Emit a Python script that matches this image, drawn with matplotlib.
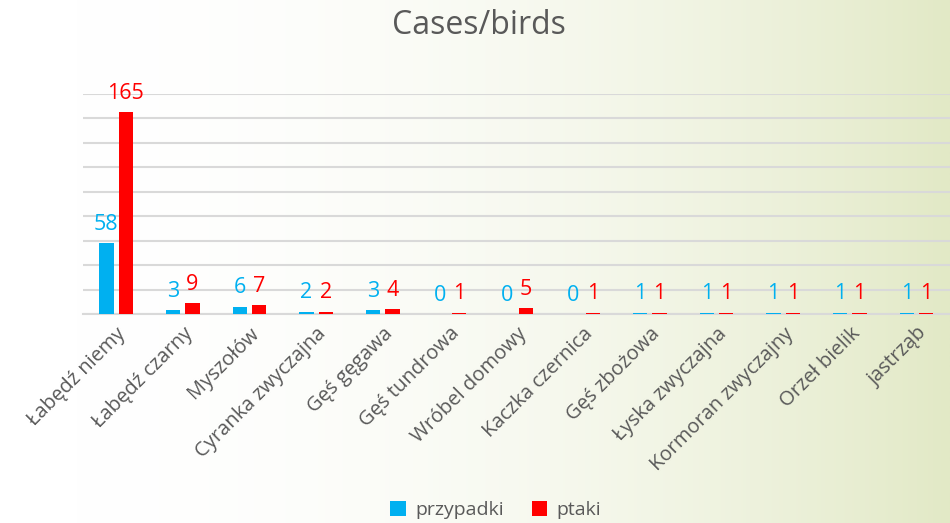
import numpy as np
import matplotlib.pyplot as plt
from matplotlib.colors import LinearSegmentedColormap

# Data
birds = ['Łabędź niemy', 'Łabędź czarny', 'Myszołów', 'Cyranka zwyczajna',
         'Gęś gęgawa', 'Gęś tundrowa', 'Wróbel domowy', 'Kaczka czernica',
         'Gęś zbożowa', 'Łyska zwyczajna', 'Kormoran zwyczajny', 'Orzeł bielik',
         'jastrząb']
przypadki = [58, 3, 6, 2, 3, 0, 0, 0, 1, 1, 1, 1, 1]
ptaki = [165, 9, 7, 2, 4, 1, 5, 1, 1, 1, 1, 1, 1]

blue = '#00B0F0'
red = '#FF0000'
grey = '#595959'

plt.rcParams['font.family'] = ['Open Sans', 'DejaVu Sans']

fig = plt.figure(figsize=(9.5, 5.23), dpi=100)

# background gradient: white on the left, pale green on the right
bg = fig.add_axes([0, 0, 1, 1], zorder=-1)
grad = np.linspace(0, 1, 400) ** 2.2
cmap = LinearSegmentedColormap.from_list('bg', ['#ffffff', '#e2e9c6'])
bg.imshow(grad[np.newaxis, :], aspect='auto', cmap=cmap, extent=[0, 1, 0, 1])
bg.axis('off')

ax = fig.add_axes([0.087, 0.3996, 0.913, 0.4207])
ax.patch.set_alpha(0)

x = np.arange(len(birds))
w = 0.215
off = 0.145
b1 = ax.bar(x - off, przypadki, w, color=blue, linewidth=0, label='przypadki', zorder=3)
b2 = ax.bar(x + off, ptaki, w, color=red, linewidth=0, label='ptaki', zorder=3)

for xi, v in zip(x, przypadki):
    ax.annotate(str(v), (xi - off, v), xytext=(0, 6), textcoords='offset points',
                ha='center', va='bottom', color=blue, fontsize=15.5)
for xi, v in zip(x, ptaki):
    ax.annotate(str(v), (xi + off, v), xytext=(0, 6), textcoords='offset points',
                ha='center', va='bottom', color=red, fontsize=15.5)

ax.set_xlim(-0.5, len(birds) - 0.5)
ax.set_ylim(0, 180)
ax.set_yticks(np.arange(0, 181, 20))
ax.yaxis.grid(True, color='#d9d9d9', linewidth=1.5, zorder=0)
ax.tick_params(axis='y', left=False, labelleft=False)
ax.tick_params(axis='x', length=0, pad=7)
ax.set_xticks(x)
ax.set_xticklabels(birds, rotation=45, ha='right', rotation_mode='anchor',
                   color=grey, fontsize=14.5)
for s in ['top', 'right', 'left']:
    ax.spines[s].set_visible(False)
ax.spines['bottom'].set_color('#d9d9d9')
ax.spines['bottom'].set_linewidth(1.5)

fig.text(0.504, 0.952, 'Cases/birds', ha='center', va='center',
         fontsize=23, color=grey)

fig.legend(handles=[b1, b2], loc='center', bbox_to_anchor=(0.522, 0.025),
           ncol=2, frameon=False, fontsize=14, labelcolor=grey,
           handlelength=0.8, handleheight=0.8, handletextpad=0.5,
           columnspacing=1.4)

fig.savefig('out.png', dpi=100)
